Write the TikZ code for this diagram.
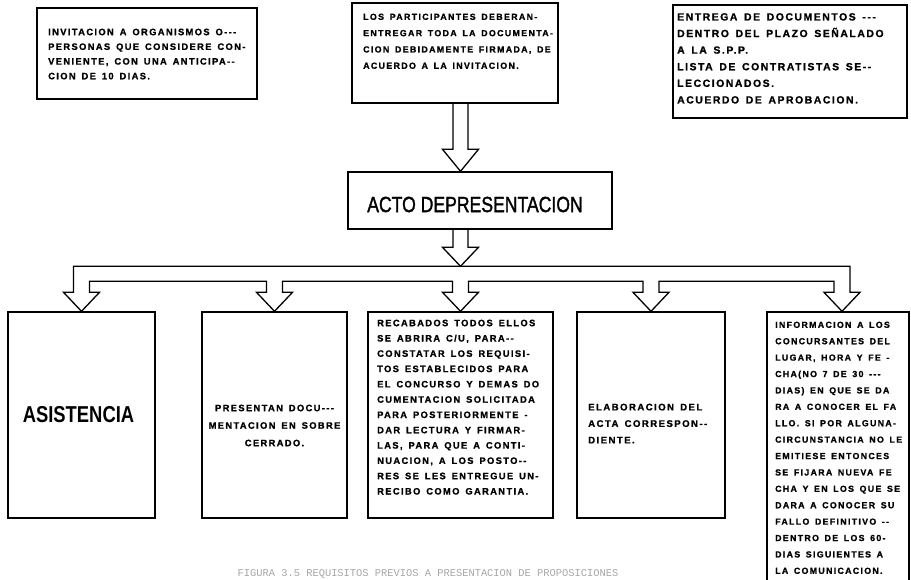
\documentclass[tikz,border=0pt]{standalone}
\usepackage{fontspec}
\usepackage{graphicx}
\usetikzlibrary{calc}
\setmainfont{Liberation Sans}
\newfontfamily\tw{Liberation Sans}[LetterSpace=15,WordSpace=1.5,BoldFeatures={FakeBold=1.2}]
\newfontfamily\heading{Liberation Sans}[FakeBold=1.6]
\newfontfamily\capt{Liberation Mono}

\begin{document}
\begin{tikzpicture}[x=1pt,y=-1pt,
  frame/.style={draw, line width=1.4pt, inner sep=0pt},
  note/.style 2 args={inner sep=0pt, anchor=north west, align=left,
    font=\tw\bfseries\fontsize{#1}{#2}\selectfont},
  blockarrow/.style={draw, line width=1.3pt, line join=miter}]
\useasboundingbox (0,0) rectangle (911,579);

% ---- upper boxes ----
\node[frame, minimum width=220, minimum height=91] (inv) at (147,53.5) {};
\node[frame, minimum width=206, minimum height=100] (mid) at (455,53) {};
\node[frame, minimum width=234, minimum height=113] (req) at (790,61.5) {};
\node[frame, minimum width=264, minimum height=57] (acto) at (480,200.5) {};

% ---- lower boxes ----
\node[frame, minimum width=147, minimum height=206] (b1) at (81.5,415) {};
\node[frame, minimum width=145, minimum height=206] (b2) at (274.5,415) {};
\node[frame, minimum width=185, minimum height=206] (b3) at (460.5,415) {};
\node[frame, minimum width=148, minimum height=206] (b4) at (651,415) {};
\node[frame, minimum width=142, minimum height=290] (b5) at (838,457) {};

% ---- texts ----
\node[note={9.3}{14.7}] (tinv) at (48,28.5) {INVITACION A ORGANISMOS O-{}-{}-\\
PERSONAS QUE CONSIDERE CON-\\
VENIENTE, CON UNA ANTICIPA-{}-\\
CION DE 10 DIAS.};

\node[note={8.85}{16.3}] (tmid) at (363,13.5) {LOS PARTICIPANTES DEBERAN-\\
ENTREGAR TODA LA DOCUMENTA-\\
CION DEBIDAMENTE FIRMADA, DE\\
ACUERDO A LA INVITACION.};

\node[note={10.4}{16.6}] (treq) at (677,13) {ENTREGA DE DOCUMENTOS -{}-{}-\\
DENTRO DEL PLAZO SEÑALADO\\
A LA S.P.P.\\
LISTA DE CONTRATISTAS SE-{}-\\
LECCIONADOS.\\
ACUERDO DE APROBACION.};

\node[font=\heading\fontsize{22}{24}\selectfont, inner sep=0pt] (tacto) at (acto.center) [xshift=-5pt, yshift=-4pt]
  {\scalebox{0.8}[1]{ACTO DEPRESENTACION}};

\node[font=\bfseries\fontsize{23}{25}\selectfont, inner sep=0pt] (tasis) at (b1.center) [xshift=-3pt]
  {\scalebox{0.8}[1]{ASISTENCIA}};

\node[note={9.3}{17.5}, anchor=north, align=center] (tb2) at (274.5,404.5) {PRESENTAN DOCU-{}-{}-\\
MENTACION EN SOBRE\\
CERRADO.};

\node[note={9.3}{15.3}] (tb3) at (377,319.5) {RECABADOS TODOS ELLOS\\
SE ABRIRA C/U, PARA-{}-\\
CONSTATAR LOS REQUISI-\\
TOS ESTABLECIDOS PARA\\
EL CONCURSO Y DEMAS DO\\
CUMENTACION SOLICITADA\\
PARA POSTERIORMENTE -\\
DAR LECTURA Y FIRMAR-\\
LAS, PARA QUE A CONTI-\\
NUACION, A LOS POSTO-{}-\\
RES SE LES ENTREGUE UN-\\
RECIBO COMO GARANTIA.};

\node[note={9.6}{16.5}] (tb4) at (588,403.5) {ELABORACION DEL\\
ACTA CORRESPON-{}-\\
DIENTE.};

\node[note={8.8}{16.4}] (tb5) at (775,321.5) {INFORMACION A LOS\\
CONCURSANTES DEL\\
LUGAR, HORA Y FE -\\
CHA(NO 7 DE 30 -{}-{}-\\
DIAS) EN QUE SE DA\\
RA A CONOCER EL FA\\
LLO. SI POR ALGUNA-\\
CIRCUNSTANCIA NO LE\\
EMITIESE ENTONCES\\
SE FIJARA NUEVA FE\\
CHA Y EN LOS QUE SE\\
DARA A CONOCER SU\\
FALLO DEFINITIVO -{}-\\
DENTRO DE LOS 60-\\
DIAS SIGUIENTES A\\
LA COMUNICACION.};

% ---- caption ----
\node[font=\capt\fontsize{10.4}{12}\selectfont, text=black!35, anchor=base, inner sep=0pt] (cap) at (428,576)
  {FIGURA 3.5 REQUISITOS PREVIOS A PRESENTACION DE PROPOSICIONES};

% ---- hollow arrows ----
\coordinate (a1) at (b1.north);
\coordinate (a2) at (b2.north);
\coordinate (a3) at (b3.north);
\coordinate (a4) at (b4.north);
\coordinate (a5) at ($(b5.north)+(4,0)$);
\coordinate (t3) at ($(a3)+(0,-45)$);

% from the invitation box into the act box
\draw[blockarrow] ($(t3 |- mid.south)+(-7.5,0)$) -- ($(t3 |- acto.north)+(-7.5,-22)$)
  -- ($(t3 |- acto.north)+(-18,-22)$) -- (t3 |- acto.north) -- ($(t3 |- acto.north)+(18,-22)$)
  -- ($(t3 |- acto.north)+(7.5,-22)$) -- ($(t3 |- mid.south)+(7.5,0)$);

% from the act box onto the distribution bar
\draw[blockarrow] ($(t3 |- acto.south)+(-7.5,0)$) -- ($(t3)+(-7.5,-19)$) -- ($(t3)+(-18,-19)$)
  -- (t3) -- ($(t3)+(18,-19)$) -- ($(t3)+(7.5,-19)$) -- ($(t3 |- acto.south)+(7.5,0)$);

% distribution bar with its five branches
\draw[blockarrow]
  ($(a1)+(-8,-19)$) -- ($(a1)+(-8,-45)$) -- ($(a5)+(8,-45)$) -- ($(a5)+(8,-19)$)
  -- ($(a5)+(18,-19)$) -- (a5) -- ($(a5)+(-18,-19)$) -- ($(a5)+(-8,-19)$) -- ($(a5)+(-8,-30)$)
  -- ($(a4)+(8,-30)$) -- ($(a4)+(8,-19)$) -- ($(a4)+(18,-19)$) -- (a4) -- ($(a4)+(-18,-19)$)
  -- ($(a4)+(-8,-19)$) -- ($(a4)+(-8,-30)$)
  -- ($(a3)+(8,-30)$) -- ($(a3)+(8,-19)$) -- ($(a3)+(18,-19)$) -- (a3) -- ($(a3)+(-18,-19)$)
  -- ($(a3)+(-8,-19)$) -- ($(a3)+(-8,-30)$)
  -- ($(a2)+(8,-30)$) -- ($(a2)+(8,-19)$) -- ($(a2)+(18,-19)$) -- (a2) -- ($(a2)+(-18,-19)$)
  -- ($(a2)+(-8,-19)$) -- ($(a2)+(-8,-30)$)
  -- ($(a1)+(8,-30)$) -- ($(a1)+(8,-19)$) -- ($(a1)+(18,-19)$) -- (a1) -- ($(a1)+(-18,-19)$)
  -- cycle;
\end{tikzpicture}
\end{document}
